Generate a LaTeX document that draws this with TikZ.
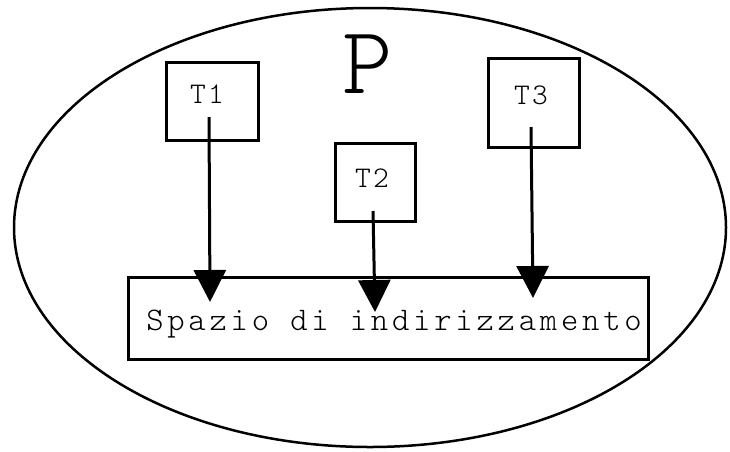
\documentclass[tikz,border=0pt]{standalone}
\usepackage{fontspec}
\newfontfamily\monolight{lmmonolt10-regular.otf}[LetterSpace=11.5]
\newfontfamily\monolbl{lmmonolt10-regular.otf}[LetterSpace=8]
\newfontfamily\monobig{lmmonolt10-regular.otf}
\usetikzlibrary{arrows.meta,shapes.geometric}
\begin{document}
\begin{tikzpicture}[x=1pt,y=-1pt,
  lbl/.style={inner sep=0pt,font=\monolbl\fontsize{30}{30}\selectfont},
  tbox/.style={draw,line width=3pt,inner sep=0pt},
  link/.style={line width=3pt,-{Triangle[length=32pt,width=32pt]}}]
\useasboundingbox (0,0) rectangle (730,451);
\node[draw,line width=2.5pt,ellipse,minimum width=712pt,minimum height=439pt,inner sep=0pt] (proc) at (370,227.5) {};
\node[inner sep=0pt,font=\monobig\fontsize{96}{96}\selectfont] (p) at (368,64) {P};
\node[tbox,minimum width=92pt,minimum height=78pt] (t1) at (212,101) {};
\node[lbl] (l1) at (207,94) {T1};
\node[tbox,minimum width=80pt,minimum height=78pt] (t2) at (375,182) {};
\node[lbl] (l2) at (372,178) {T2};
\node[tbox,minimum width=91pt,minimum height=89pt] (t3) at (533.5,102.5) {};
\node[lbl] (l3) at (531,95) {T3};
\node[tbox,minimum width=520pt,minimum height=82pt] (mem) at (388,318) {};
\node[inner sep=0pt,anchor=base,font=\monolight\fontsize{33}{33}\selectfont] (ml) at (394,330) {Spazio di indirizzamento};
\coordinate (s1) at (209,117);
\coordinate (e1) at (210,302);
\coordinate (s2) at (373,211);
\coordinate (e2) at (375,312);
\coordinate (s3) at (531,127);
\coordinate (e3) at (533,298);
\draw[link] (s1) -- (e1);
\draw[link] (s2) -- (e2);
\draw[link] (s3) -- (e3);
\end{tikzpicture}
\end{document}
